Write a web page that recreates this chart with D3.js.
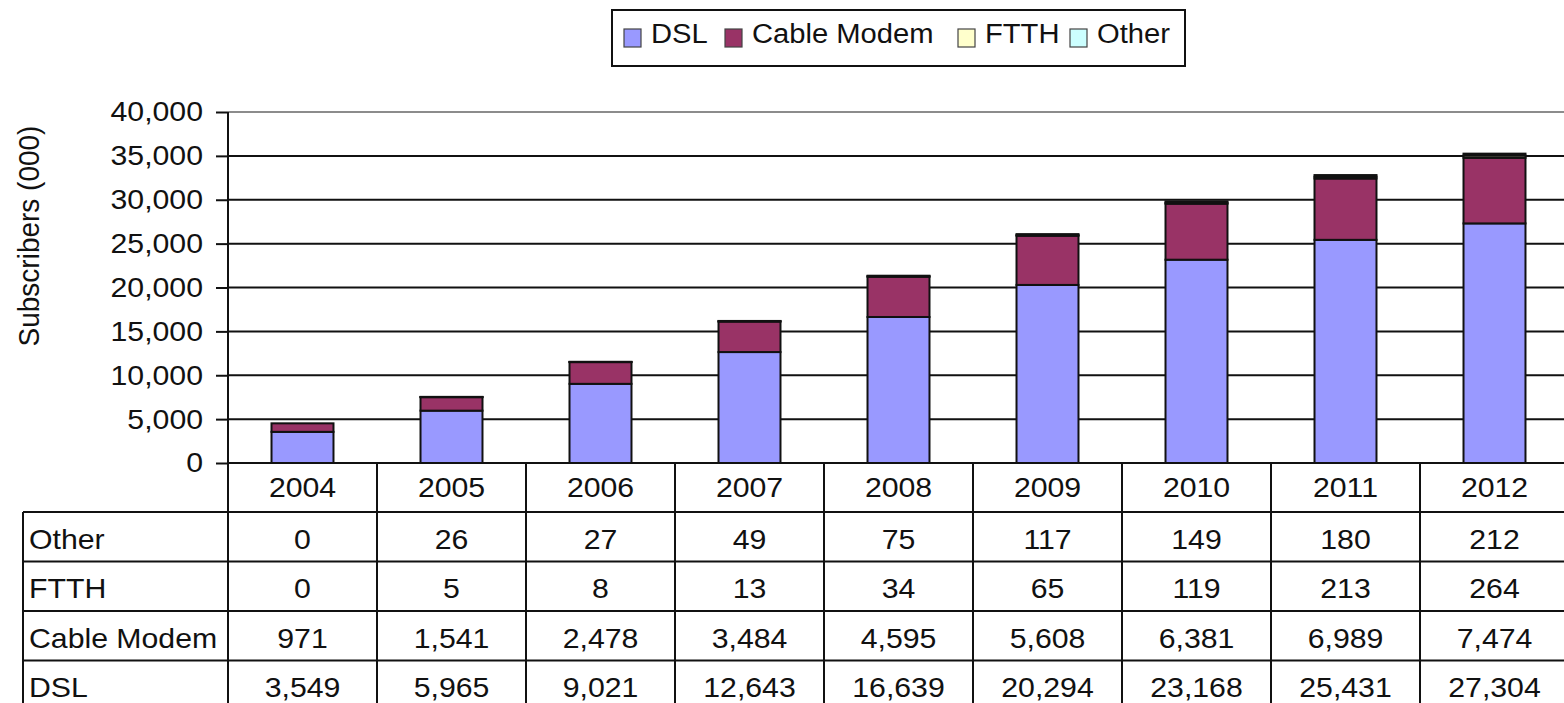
<!DOCTYPE html>
<html lang="en">
  <head>
    <meta charset="utf-8">
    <title>Broadband subscribers</title>
    <style>
      body { margin: 0; background: #fff; }
      svg text { font-family: "Liberation Sans", Arial, sans-serif; fill: #111; }
    </style>
  </head>
  <body>
    <script src="https://d3js.org/d3.v7.min.js"></script>
    <script>
    const years = ["2004", "2005", "2006", "2007", "2008", "2009", "2010", "2011", "2012"]
    const dsl = [3549, 5965, 9021, 12643, 16639, 20294, 23168, 25431, 27304]
    const cable = [971, 1541, 2478, 3484, 4595, 5608, 6381, 6989, 7474]
    const ftth = [0, 5, 8, 13, 34, 65, 119, 213, 264]
    const other = [0, 26, 27, 49, 75, 117, 149, 180, 212]
    const yTicks = [0, 5000, 10000, 15000, 20000, 25000, 30000, 35000, 40000]

    const seriesNames = ["DSL", "Cable Modem", "FTTH", "Other"]
    const seriesValues = [dsl, cable, ftth, other]
    const colors = ["#9999ff", "#993366", "#ffffcc", "#ccffff"]

    const w = 1564
    const h = 703
    const plotL = 228      // y axis position
    const plotR = 1569     // plot runs off the right edge like the original
    const plotT = 112
    const zeroY = 463
    const fs = 28
    const sx = 1.08        // the source picture is a little stretched sideways

    // rows of the data table, as drawn under the chart (top to bottom)
    const tableRows = ["Other", "FTTH", "Cable Modem", "DSL"]

    const rows = years.map((yr, i) => {
      const r = { year: yr }
      seriesNames.forEach((s, j) => { r[s] = seriesValues[j][i] })
      return r
    })

    const stacked = d3.stack().keys(seriesNames)(rows)

    const x = d3.scaleBand().domain(years).range([plotL, plotR])
    const y = d3.scaleLinear().domain([0, 40000]).range([zeroY, plotT])
    const rowY = d3.scaleBand().domain(tableRows).range([512, 710])
    const color = d3.scaleOrdinal().domain(seriesNames).range(colors)
    const fmt = d3.format(",")

    const barW = x.bandwidth() * 0.416

    // move x/y into a transform so the text can be widened
    const stretch = sel => sel.each(function () {
      const t = d3.select(this)
      const tx = +t.attr("x") || 0
      const ty = +t.attr("y") || 0
      t.attr("x", 0).attr("y", 0)
        .attr("transform", `translate(${tx},${ty}) scale(${sx},1)`)
    })

    const svg = d3.select("body").append("svg")
      .attr("width", w)
      .attr("height", h)

    // gridlines
    svg.append("g")
      .selectAll("line")
      .data(yTicks.slice(1))
      .enter().append("line")
      .attr("x1", plotL).attr("x2", plotR)
      .attr("y1", d => y(d)).attr("y2", d => y(d))
      .attr("stroke", d => d === 40000 ? "#666" : "#111")
      .attr("stroke-width", d => d === 40000 ? 1.4 : 2)

    // y axis
    const yAxis = d3.axisLeft(y).tickValues(yTicks).tickFormat(fmt).tickSize(12).tickPadding(13)
    const ya = svg.append("g")
      .attr("transform", `translate(${plotL},0)`)
      .call(yAxis)
    ya.select(".domain").remove()
    ya.selectAll(".tick line").attr("stroke", "#111").attr("stroke-width", 2)
    ya.selectAll(".tick text")
      .style("font-size", fs + "px")
      .style("font-family", "Liberation Sans, Arial, sans-serif")
      .attr("fill", "#111")
      .call(stretch)

    svg.append("text")
      .attr("transform", "translate(39,236) rotate(-90) scale(1,1.08)")
      .attr("text-anchor", "middle")
      .style("font-size", "28px")
      .text("Subscribers (000)")

    // stacked bars
    svg.append("g")
      .selectAll("g")
      .data(stacked)
      .enter().append("g")
      .attr("fill", d => color(d.key))
      .selectAll("rect")
      .data(d => d)
      .enter().append("rect")
      .attr("x", d => x(d.data.year) + (x.bandwidth() - barW) / 2)
      .attr("width", barW)
      .attr("y", d => y(d[1]))
      .attr("height", d => y(d[0]) - y(d[1]))
      .attr("stroke", "#111")
      .attr("stroke-width", 2)

    // data table
    const tbl = svg.append("g")
    const lineAttr = sel => sel.attr("stroke", "#111").attr("stroke-width", 2)

    // vertical axis line / column borders
    lineAttr(tbl.append("line").attr("x1", plotL).attr("x2", plotL).attr("y1", plotT).attr("y2", h + 10))
    lineAttr(tbl.selectAll(".col").data(years.slice(1)).enter().append("line")
      .attr("x1", d => x(d)).attr("x2", d => x(d))
      .attr("y1", zeroY).attr("y2", h + 10))
    lineAttr(tbl.append("line").attr("x1", 23).attr("x2", 23).attr("y1", 512).attr("y2", h + 10))

    // horizontal lines
    lineAttr(tbl.append("line").attr("x1", plotL).attr("x2", plotR).attr("y1", zeroY).attr("y2", zeroY))
    lineAttr(tbl.selectAll(".row").data(tableRows).enter().append("line")
      .attr("x1", 23).attr("x2", plotR)
      .attr("y1", d => rowY(d)).attr("y2", d => rowY(d)))

    // year labels
    tbl.selectAll(".yr").data(years).enter().append("text")
      .attr("x", d => x(d) + x.bandwidth() / 2)
      .attr("y", (zeroY + 512) / 2)
      .attr("dy", "0.34em")
      .attr("text-anchor", "middle")
      .style("font-size", fs + "px")
      .text(d => d)
      .call(stretch)

    // row labels
    tbl.selectAll(".rl").data(tableRows).enter().append("text")
      .attr("x", 29)
      .attr("y", d => rowY(d) + rowY.bandwidth() / 2 + 2)
      .attr("dy", "0.36em")
      .style("font-size", fs + "px")
      .text(d => d)
      .call(stretch)

    // cell values
    tableRows.forEach(r => {
      tbl.selectAll(null).data(rows).enter().append("text")
        .attr("x", d => x(d.year) + x.bandwidth() / 2)
        .attr("y", rowY(r) + rowY.bandwidth() / 2 + 2)
        .attr("dy", "0.36em")
        .attr("text-anchor", "middle")
        .style("font-size", fs + "px")
        .text(d => fmt(d[r]))
        .call(stretch)
    })

    // legend
    const lg = svg.append("g")
    lg.append("rect")
      .attr("x", 612).attr("y", 10).attr("width", 573).attr("height", 56)
      .attr("fill", "#fff").attr("stroke", "#111").attr("stroke-width", 2)

    const legendX = [624, 725, 958, 1070]
    const item = lg.selectAll(".li").data(seriesNames).enter().append("g")
      .attr("transform", (d, i) => `translate(${legendX[i]},29)`)
    item.append("rect")
      .attr("width", 17).attr("height", 18)
      .attr("fill", d => color(d))
      .attr("stroke", "#444").attr("stroke-width", 1.2)
    item.append("text")
      .attr("x", 27).attr("y", 14)
      .style("font-size", "27px")
      .text(d => d)
      .call(stretch)
    </script>
  </body>
</html>
